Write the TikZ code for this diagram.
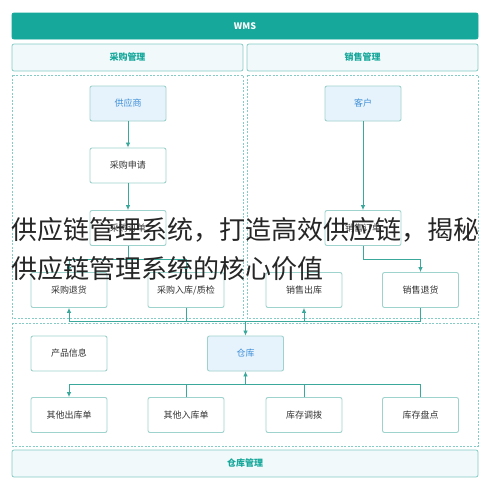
\documentclass[tikz,border=0pt]{standalone}
\usepackage{fontspec}
\setmainfont{Noto Sans CJK SC}
\usetikzlibrary{positioning}
\usetikzlibrary{arrows.meta}
\tikzset{>=latex}
\usepackage{xcolor}
\definecolor{wmsteal}{HTML}{16A89B}
\definecolor{paneledge}{HTML}{86CBC6}
\definecolor{panelfill}{HTML}{F1F9FB}
\definecolor{boxedge}{HTML}{9ED2CC}
\definecolor{bluefill}{HTML}{E7F3FC}
\definecolor{bluetext}{HTML}{3D8FD8}
\definecolor{flowline}{HTML}{3AA89B}
\tikzstyle{node_box}=[minimum height=35pt, minimum width=76pt, fill=white, rounded corners=2pt, draw=boxedge, line width=0.9pt, font=\fontsize{9}{10}\selectfont, text=black!80]
\tikzstyle{node_blue}=[node_box, fill=bluefill, text=bluetext]
\tikzstyle{panel_bar}=[minimum height=27pt, rounded corners=2pt, fill=panelfill, draw=paneledge, line width=0.8pt, font=\bfseries\fontsize{9}{10}\selectfont, text=wmsteal]
\tikzstyle{dash_area}=[draw=paneledge, dash pattern=on 2pt off 1.5pt, line width=0.7pt]
\tikzstyle{connect}=[flowline, line width=0.8pt]
\tikzstyle{connect arrow}=[-{Latex[length=5,width=4.5]}, flowline, line width=0.8pt]

\begin{document}
\begin{tikzpicture}[
    x=1pt, y=-1pt,
    on grid]

        \fill[white] (0,0) rectangle (491,490);
        \useasboundingbox (0,0) rectangle (491,490);

        % header bars
        \node[panel_bar, fill=wmsteal, draw=wmsteal, text=white, minimum width=466pt, minimum height=26pt] (wms) at (245,26) {WMS};
        \node[panel_bar, minimum width=231pt] (purmgmt) at (127.5,57.5) {采购管理};
        \node[panel_bar, minimum width=231pt] (salesmgmt) at (362.5,57.5) {销售管理};
        \node[panel_bar, minimum width=466pt] (storemgmt) at (245,463.5) {仓库管理};

        % dashed areas
        \draw[dash_area] (12,75) rectangle (243,318);
        \draw[dash_area] (247,75) rectangle (478,318);
        \draw[dash_area] (12,323) rectangle (478,446);

        % purchase side
        \node[node_blue] (supplier) at (128,103.5) {供应商};
        \node[node_box, below=62pt of supplier] (purreq) {采购申请};
        \node[node_box, below=62.5pt of purreq] (purorder) {采购订单};
        % sales side
        \node[node_blue] (customer) at (363,103.5) {客户};
        \node[node_box, below=124.5pt of customer] (salesorder) {销售订单};
        % middle row
        \node[node_box] (purreturn) at (69,290) {采购退货};
        \node[node_box, right=117pt of purreturn] (purin) {采购入库/质检};
        \node[node_box, right=118pt of purin] (salesout) {销售出库};
        \node[node_box, right=116.5pt of salesout] (salesreturn) {销售退货};
        % warehouse
        \node[node_box] (prodinfo) at (69,353.5) {产品信息};
        \node[node_blue] (store) at (245.5,353.5) {仓库};
        \node[node_box] (otherout) at (69,415) {其他出库单};
        \node[node_box, right=117pt of otherout] (otherin) {其他入库单};
        \node[node_box, right=118pt of otherin] (transfer) {库存调拨};
        \node[node_box, right=116.5pt of transfer] (stocktake) {库存盘点};

        \coordinate (purfork) at (128,259);
        \coordinate (salesfork) at (363,259);
        \coordinate (upbus) at (245.5,321);
        \coordinate (lowbus) at (245.5,384);

        \begin{scope}[connect arrow]
            \draw (supplier) -- (purreq);
            \draw (purreq) -- (purorder);
            \draw (customer) -- (salesorder);

            \draw (purfork) -| (purin.north);
            \draw (purfork) -| (purreturn.north);
            \draw (salesfork) -| (salesreturn.north);

            \draw (upbus) -- (store.north);
            \draw (upbus) -| (purreturn.south);
            \draw (upbus) -| (salesout.south);

            \draw (lowbus) -- (store.south);
            \draw (lowbus) -| (otherout.north);
        \end{scope}

        \begin{scope}[connect]
            \draw (purorder.south) -- (purfork);
            \draw (salesorder.south) -- (salesfork);
            \draw (purin.south) |- (upbus);
            \draw (salesreturn.south) |- (upbus);
            \draw (otherin.north) |- (lowbus);
            \draw (transfer.north) |- (lowbus);
            \draw (stocktake.north) |- (lowbus);
        \end{scope}

        % title over the picture
        \node[anchor=north west, inner sep=0pt, align=left, font=\fontsize{26}{39}\selectfont, text=black!85] (headline) at (11,217) {供应链管理系统，打造高效供应链，揭秘\\供应链管理系统的核心价值};

\end{tikzpicture}
\end{document}
